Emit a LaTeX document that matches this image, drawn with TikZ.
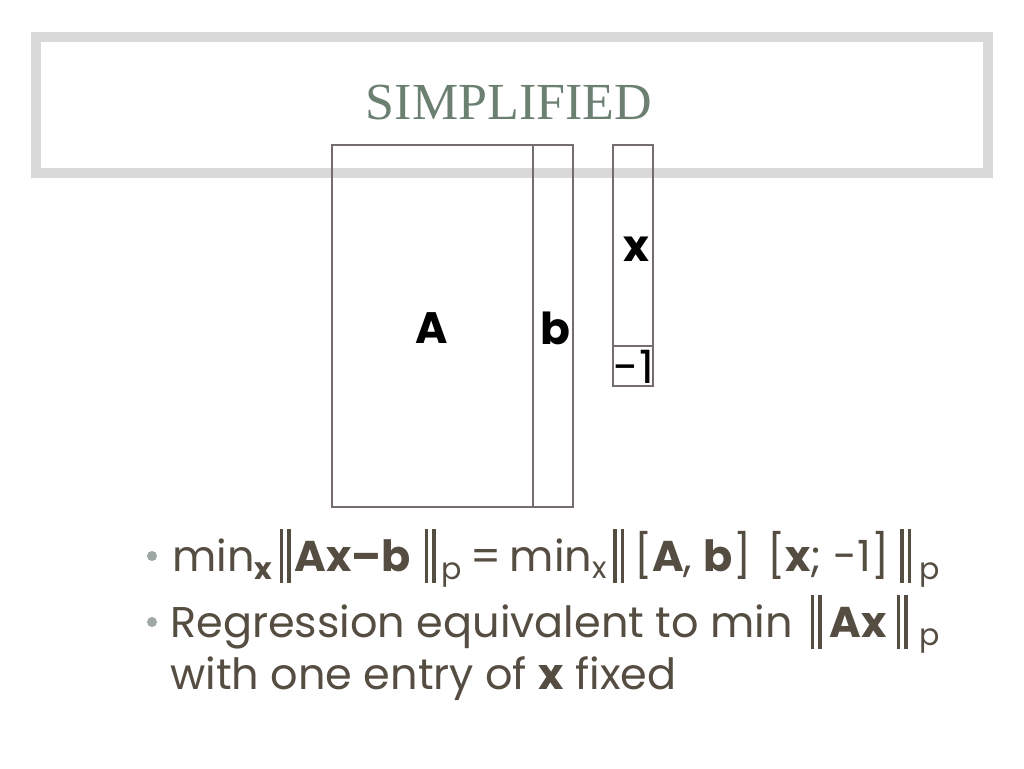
\documentclass[tikz,border=0pt]{standalone}
\usepackage{fontspec}
\setmainfont{Poppins}
\newfontfamily\titlefont{Liberation Serif}
\usetikzlibrary{positioning}
\definecolor{tGreen}{RGB}{108,128,114}
\definecolor{bGray}{RGB}{217,217,217}
\definecolor{mLine}{RGB}{117,108,110}
\definecolor{tBrown}{RGB}{86,77,66}
\definecolor{dotGray}{RGB}{158,168,163}
% double bar: space before, space after
\newcommand{\nrm}[2]{\hspace{#1}\rule[-12pt]{3.5pt}{54pt}\hspace{4pt}\rule[-12pt]{3.5pt}{54pt}\hspace{#2}}
\begin{document}
\begin{tikzpicture}[x=1pt,y=-1pt,
  banner/.style={draw=bGray,line width=10pt,fill=white},
  mat/.style={draw=mLine,line width=2pt,inner sep=0pt},
  lbl/.style={font=\fontsize{44}{44}\selectfont\bfseries,text=black},
  txt/.style={font=\fontsize{43}{50}\selectfont,text=tBrown,inner sep=0pt},
  dot/.style={circle,fill=dotGray,inner sep=0pt,minimum size=10pt}]
\useasboundingbox (0,0) rectangle (1024,768);
\fill[white] (0,0) rectangle (1024,768);
% title banner
\draw[banner] (36,37) rectangle (988,172.5);
\node[font=\titlefont\fontsize{52}{52}\selectfont,text=tGreen] (title) at (509,103) {SIMPLIFIED};
% matrix blocks
\draw[mat] (332,145) rectangle (533,507);
\draw[mat] (533,145) rectangle (573,507);
\draw[mat] (613,145) rectangle (653,346);
\draw[mat] (613,346) rectangle (653,386);
\node[lbl] (A) at (432,328) {A};
\node[lbl] (b) at (555,328) {b};
\node[lbl] (x) at (636,249) {x};
\node[font=\fontsize{46}{46}\selectfont,text=black,inner sep=0pt] (m1) at (634,367) {-1};
% bullets
\node[dot] (d1) at (152,556) {};
\node[dot] (d2) at (152,622) {};
\node[txt,anchor=base west] (l1) at (172,571) {min\textsubscript{\textbf{x}}\nrm{7pt}{4pt}\textbf{Ax–b}\nrm{14pt}{6pt}\textsubscript{p}\hspace{8pt}=\hspace{8pt}min\textsubscript{x}\nrm{6pt}{10pt}[\textbf{A}, \textbf{b}]\hspace{16pt}[\textbf{x}; -1]\nrm{11pt}{8pt}\textsubscript{p}};
\node[txt,anchor=base west] (l2) at (170,637) {Regression equivalent to min\nrm{18pt}{8pt}\textbf{Ax}\nrm{10pt}{12pt}\textsubscript{p}};
\node[txt,anchor=base west] (l3) at (170,689) {with one entry of \textbf{x} fixed};
\end{tikzpicture}
\end{document}
